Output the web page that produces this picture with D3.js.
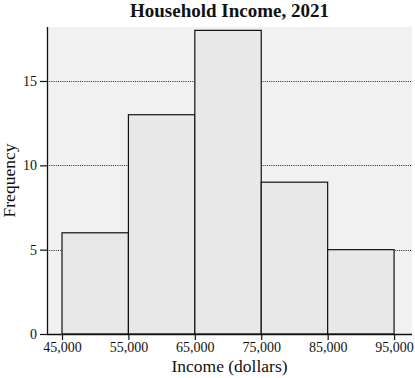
<!DOCTYPE html>
<html>
<head>
<meta charset="utf-8">
<script src="https://d3js.org/d3.v7.min.js"></script>
<style>
body { margin: 0; background: white; }
text { font-family: "Liberation Serif", "DejaVu Serif", serif; fill: #111; }
</style>
</head>
<body>
<div id="chart"></div>
<script>
// bin edges and counts
var binStarts = [45000, 55000, 65000, 75000, 85000];
var binWidth = 10000;
var counts = [6, 13, 18, 9, 5];
var xTicks = [45000, 55000, 65000, 75000, 85000, 95000];
var yTicks = [0, 5, 10, 15];
var gridLines = [5, 10, 15];

var W = 415, H = 378;
var margin = {top: 27, right: 3, bottom: 44, left: 47};
var width = W - margin.left - margin.right,
    height = H - margin.top - margin.bottom;

var svg = d3.select("#chart")
  .append("svg")
    .attr("width", W)
    .attr("height", H)
  .append("g")
    .attr("transform", "translate(" + margin.left + "," + margin.top + ")");

var x = d3.scaleLinear()
  .domain([42740, 97700])
  .range([0, width]);

var y = d3.scaleLinear()
  .domain([0, 18.2])
  .range([height, 0]);

// panel background
svg.append("rect")
  .attr("x", 0).attr("y", 0)
  .attr("width", width).attr("height", height)
  .style("fill", "#f1f1f1");

// dotted gridlines
svg.selectAll(".grid")
  .data(gridLines)
  .enter()
  .append("line")
    .attr("x1", 0).attr("x2", width)
    .attr("y1", function(d) { return Math.round(y(d)) + 0.5; })
    .attr("y2", function(d) { return Math.round(y(d)) + 0.5; })
    .style("stroke", "#222")
    .style("stroke-width", 1)
    .style("stroke-dasharray", "1,1.2");

// bars
svg.selectAll(".bar")
  .data(counts)
  .enter()
  .append("rect")
    .attr("x", function(d, i) { return x(binStarts[i]); })
    .attr("y", function(d) { return y(d); })
    .attr("width", function(d, i) { return x(binStarts[i] + binWidth) - x(binStarts[i]); })
    .attr("height", function(d) { return height - y(d); })
    .style("fill", "#e8e8e8")
    .style("stroke", "#111")
    .style("stroke-width", 1.2);

// axes
var xAxis = svg.append("g")
  .attr("transform", "translate(0," + height + ")")
  .call(d3.axisBottom(x).tickValues(xTicks).tickSize(6).tickPadding(2)
        .tickFormat(d3.format(",")));
xAxis.select(".domain").attr("d", "M0,0.5H" + width).style("stroke", "#111").style("stroke-width", 1.3);

var yAxis = svg.append("g")
  .call(d3.axisLeft(y).tickValues(yTicks).tickSize(7).tickPadding(3));
yAxis.select(".domain").attr("d", "M0.5,0V" + height).style("stroke", "#111").style("stroke-width", 1.3);

svg.selectAll(".tick line").style("stroke", "#111").style("stroke-width", 1.2);
svg.selectAll(".tick text")
  .style("font-family", "'Liberation Serif', serif")
  .style("font-size", "14px")
  .style("fill", "#111");

// title and labels
svg.append("text")
  .attr("x", width / 2)
  .attr("y", -10)
  .attr("text-anchor", "middle")
  .style("font-size", "19px")
  .style("font-weight", "bold")
  .text("Household Income, 2021");

svg.append("text")
  .attr("x", width / 2)
  .attr("y", height + 38)
  .attr("text-anchor", "middle")
  .style("font-size", "17.5px")
  .text("Income (dollars)");

svg.append("text")
  .attr("transform", "rotate(-90)")
  .attr("x", -height / 2)
  .attr("y", -32)
  .attr("text-anchor", "middle")
  .style("font-size", "17.5px")
  .text("Frequency");
</script>
</body>
</html>
